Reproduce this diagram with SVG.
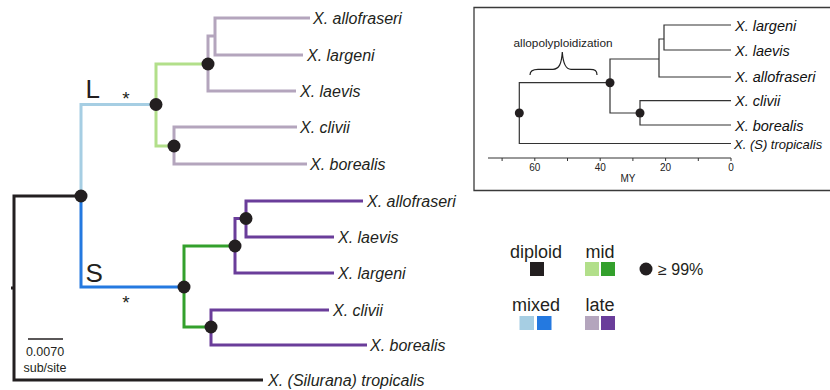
<svg xmlns="http://www.w3.org/2000/svg" width="830" height="390" viewBox="0 0 830 390">
<style>
.br{fill:none;stroke-width:3;stroke-linejoin:miter;stroke-linecap:butt}
.k{stroke:#231f20}
.mx1{stroke:#a6cee3}
.mx2{stroke:#2479e0}
.md1{stroke:#b2df8a}
.md2{stroke:#33a02c}
.lt1{stroke:#b4a5bd}
.lt2{stroke:#6a3d9a}
.dot{fill:#231f20}
.tip{font-family:"Liberation Sans",Arial,sans-serif;font-style:italic;font-size:16px;fill:#231f20}
.itip{font-family:"Liberation Sans",Arial,sans-serif;font-style:italic;font-size:14.5px;fill:#111}
.itip2{font-family:"Liberation Sans",Arial,sans-serif;font-style:italic;font-size:13px;fill:#111}
.ibr{fill:none;stroke:#333;stroke-width:1.2}
.ax{font-family:"Liberation Sans",Arial,sans-serif;font-size:10px;fill:#222;text-anchor:middle}
.lg{font-family:"Liberation Sans",Arial,sans-serif;font-size:18px;fill:#231f20;text-anchor:middle}
.sc{font-family:"Liberation Sans",Arial,sans-serif;font-size:12.5px;fill:#231f20;text-anchor:middle}
.big{font-family:"Liberation Sans",Arial,sans-serif;font-size:26px;fill:#231f20}
.ast{font-family:"Liberation Sans",Arial,sans-serif;font-size:19px;fill:#231f20;text-anchor:middle}
</style>
<rect width="830" height="390" fill="#ffffff"/>

<!-- main tree connectors -->
<g id="connectors">
  <path class="br k" d="M81,196 H14 V380 H263"/>
  <path class="br k" d="M14,288 H11"/>
  <path class="br mx1" d="M81,196 V104.5 H156"/>
  <path class="br mx2" d="M81,196 V287 H184"/>
  <path class="br md1" d="M208,64 H156 V146 H174"/>
  <path class="br md2" d="M235,246 H184 V327 H211"/>
  <path class="br lt1" d="M310,18 H215 V55 H303"/>
  <path class="br lt1" d="M296,91 H208 V36 H215"/>
  <path class="br lt1" d="M297,127 H174 V164 H307"/>
  <path class="br lt2" d="M363,201 H246 V237 H334"/>
  <path class="br lt2" d="M334,273 H235 V218.5 H246"/>
  <path class="br lt2" d="M329,310 H211 V345 H367"/>
</g>

<!-- internal nodes -->
<g id="node-root"><circle class="dot" cx="81" cy="196" r="6.5"/></g>
<g id="node-L"><circle class="dot" cx="156" cy="104.5" r="6.5"/></g>
<g id="node-L1"><circle class="dot" cx="208" cy="64" r="6.5"/></g>
<g id="node-L2"><circle class="dot" cx="174" cy="146" r="6.5"/></g>
<g id="node-S"><circle class="dot" cx="184" cy="287" r="6.5"/></g>
<g id="node-S1"><circle class="dot" cx="235" cy="246" r="6.5"/></g>
<g id="node-S1a"><circle class="dot" cx="246" cy="218.5" r="6.5"/></g>
<g id="node-S2"><circle class="dot" cx="211" cy="327" r="6.5"/></g>

<!-- subgenome labels -->
<g id="label-L"><text class="big" x="85.5" y="97.5">L</text><text class="ast" x="126" y="104.5">*</text></g>
<g id="label-S"><text class="big" x="85.5" y="281.5">S</text><text class="ast" x="126" y="309">*</text></g>

<!-- tips -->
<g id="tip-L-allofraseri"><text class="tip" x="313" y="24">X. allofraseri</text></g>
<g id="tip-L-largeni"><text class="tip" x="307" y="61">X. largeni</text></g>
<g id="tip-L-laevis"><text class="tip" x="300" y="97">X. laevis</text></g>
<g id="tip-L-clivii"><text class="tip" x="300" y="133">X. clivii</text></g>
<g id="tip-L-borealis"><text class="tip" x="310" y="170">X. borealis</text></g>
<g id="tip-S-allofraseri"><text class="tip" x="367" y="207">X. allofraseri</text></g>
<g id="tip-S-laevis"><text class="tip" x="338" y="243">X. laevis</text></g>
<g id="tip-S-largeni"><text class="tip" x="338" y="279">X. largeni</text></g>
<g id="tip-S-clivii"><text class="tip" x="333" y="316">X. clivii</text></g>
<g id="tip-S-borealis"><text class="tip" x="370" y="351">X. borealis</text></g>
<g id="tip-tropicalis"><text class="tip" x="268" y="386">X. (Silurana) tropicalis</text></g>

<!-- scale bar -->
<g id="scalebar">
  <line x1="28" y1="339" x2="63" y2="339" stroke="#231f20" stroke-width="1.5"/>
  <text class="sc" x="45" y="356">0.0070</text>
  <text class="sc" x="45" y="372">sub/site</text>
</g>

<!-- inset -->
<g id="inset">
  <rect x="474" y="7.5" width="356" height="183" fill="#ffffff"/>
  <path d="M830,7.5 H474 V190.5 H830" fill="none" stroke="#3a3a3a" stroke-width="1.3"/>
  <g id="inset-connectors">
    <path class="ibr" d="M610,82.7 H519.3 V143.5 H731"/>
    <path class="ibr" d="M659,59 H610 V113 H640"/>
    <path class="ibr" d="M731,77 H659 V39 H664"/>
    <path class="ibr" d="M731,25 H664 V50 H731"/>
    <path class="ibr" d="M731,100.7 H640 V125 H731"/>
  </g>
  <g id="inset-node-root"><circle class="dot" cx="519.3" cy="113" r="4.5"/></g>
  <g id="inset-node-1"><circle class="dot" cx="610" cy="82.7" r="4.5"/></g>
  <g id="inset-node-2"><circle class="dot" cx="640" cy="113" r="4.5"/></g>
  <g id="inset-tip-largeni"><text class="itip" x="735" y="30.5">X. largeni</text></g>
  <g id="inset-tip-laevis"><text class="itip" x="735" y="55.5">X. laevis</text></g>
  <g id="inset-tip-allofraseri"><text class="itip" x="735" y="82.3">X. allofraseri</text></g>
  <g id="inset-tip-clivii"><text class="itip" x="735" y="106.3">X. clivii</text></g>
  <g id="inset-tip-borealis"><text class="itip" x="735" y="130.5">X. borealis</text></g>
  <g id="inset-tip-tropicalis"><text class="itip2" x="734" y="148.5">X. (S) tropicalis</text></g>
  <g id="allopolyploidization">
    <text x="563" y="47" font-family="'Liberation Sans',Arial,sans-serif" font-size="11.8" fill="#222" text-anchor="middle">allopolyploidization</text>
    <path d="M530,75 C530,70.5 533,69.3 538,69.3 L553,69.3 C559,69.3 561.5,64 562.3,52 C563.1,64 565.5,69.3 571,69.3 L590,69.3 C595,69.3 597,70.5 597,75" fill="none" stroke="#222" stroke-width="1.2"/>
  </g>
  <g id="axis">
    <path d="M488,158 H731 M731,158 V161 M698.3,158 V161 M665.6,158 V161 M632.9,158 V161 M600.2,158 V161 M567.5,158 V161 M534.8,158 V161 M502.1,158 V161" fill="none" stroke="#333" stroke-width="1"/>
    <text class="ax" x="534.8" y="171">60</text>
    <text class="ax" x="600.2" y="171">40</text>
    <text class="ax" x="665.6" y="171">20</text>
    <text class="ax" x="731" y="171">0</text>
    <text class="ax" x="628" y="182" font-size="9.5">MY</text>
  </g>
</g>

<!-- legend -->
<g id="legend">
  <g id="legend-diploid">
    <text class="lg" x="536" y="258">diploid</text>
    <rect x="530" y="262" width="14" height="14" fill="#231f20"/>
  </g>
  <g id="legend-mid">
    <text class="lg" x="600" y="258">mid</text>
    <rect x="585" y="262" width="14" height="14" fill="#b2df8a"/>
    <rect x="601" y="262" width="14" height="14" fill="#33a02c"/>
  </g>
  <g id="legend-support">
    <circle class="dot" cx="646" cy="269" r="6.5"/>
    <text x="658" y="275" font-family="'Liberation Sans',Arial,sans-serif" font-size="16" fill="#231f20">≥ 99%</text>
  </g>
  <g id="legend-mixed">
    <text class="lg" x="536" y="311">mixed</text>
    <rect x="519.5" y="316" width="14.5" height="14" fill="#a6cee3"/>
    <rect x="537" y="316" width="14.5" height="14" fill="#2479e0"/>
  </g>
  <g id="legend-late">
    <text class="lg" x="600" y="311">late</text>
    <rect x="585" y="316" width="14" height="14" fill="#b4a5bd"/>
    <rect x="601" y="316" width="14" height="14" fill="#6a3d9a"/>
  </g>
</g>
</svg>
